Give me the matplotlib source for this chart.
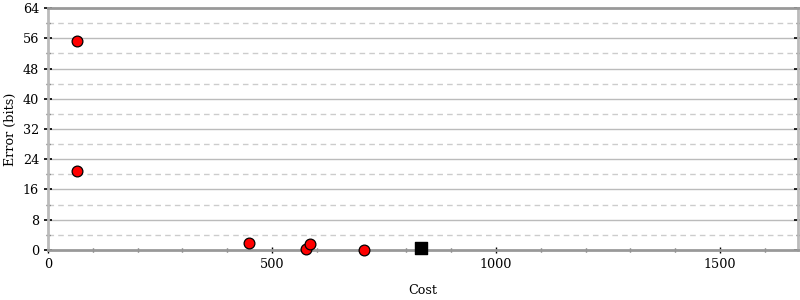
import numpy as np
import matplotlib
matplotlib.use('Agg')
import matplotlib.pyplot as plt
from matplotlib.ticker import MultipleLocator

# data
cost = [65, 65, 449, 576, 585, 705]
error = [55.3, 20.9, 1.85, 0.3, 1.6, 0.0]
best_cost = [833]
best_error = [0.5]

plt.rcParams['font.family'] = 'DejaVu Serif'
plt.rcParams['font.size'] = 9.2

fig = plt.figure(figsize=(8, 3), dpi=100)
ax = fig.add_axes([0.06, 0.1667, 0.9375, 0.8066])

ax.set_xlim(0, 1674)
ax.set_ylim(0, 64)

# grid: solid every 8, dashed every 4 in between
for y in np.arange(8, 64, 8):
    ax.axhline(y, color='#bbbbbb', lw=1, zorder=0)
for y in np.arange(4, 64, 8):
    ax.axhline(y, color='#cccccc', lw=1, ls=(0, (4, 3)), zorder=0)

ax.scatter(cost, error, s=60, c='#ff0000', edgecolors='black', linewidths=0.9,
           zorder=3, clip_on=False)
ax.scatter(best_cost, best_error, s=75, c='black', marker='s', zorder=3,
           clip_on=False)

ax.xaxis.set_major_locator(MultipleLocator(500))
ax.xaxis.set_minor_locator(MultipleLocator(100))
ax.yaxis.set_major_locator(MultipleLocator(8))
ax.yaxis.set_minor_locator(MultipleLocator(4))

ax.tick_params(axis='x', which='major', length=5, width=1, color='black',
               direction='inout', top=False)
ax.tick_params(axis='x', which='minor', length=3, width=1, color='#555555',
               direction='inout', top=False)
ax.tick_params(axis='y', which='major', length=6, width=1.2, color='black',
               direction='inout', right=True)
ax.tick_params(axis='y', which='minor', length=3, width=1, color='#555555',
               direction='inout', right=True)

ax.spines['top'].set_color('#999999')
ax.spines['top'].set_linewidth(2)
ax.spines['bottom'].set_color('#999999')
ax.spines['bottom'].set_linewidth(2)
ax.spines['left'].set_color('#bbbbbb')
ax.spines['left'].set_linewidth(2)
ax.spines['right'].set_color('#bbbbbb')
ax.spines['right'].set_linewidth(2)

ax.set_xlabel('Cost', labelpad=9)
ax.set_ylabel('Error (bits)', labelpad=4)

fig.savefig('out.png', dpi=100)
